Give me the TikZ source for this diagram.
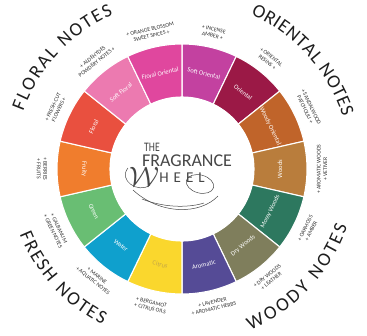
\documentclass[tikz,border=0pt]{standalone}
\usepackage{fontspec}
\setmainfont{Carlito}
\usetikzlibrary{decorations.text}
\definecolor{cSO}{RGB}{195,65,160}
\definecolor{cOR}{RGB}{155,25,70}
\definecolor{cWO}{RGB}{192,100,42}
\definecolor{cWD}{RGB}{185,125,60}
\definecolor{cMW}{RGB}{45,120,95}
\definecolor{cDW}{RGB}{127,126,92}
\definecolor{cAR}{RGB}{85,75,150}
\definecolor{cCI}{RGB}{250,215,45}
\definecolor{cWA}{RGB}{15,160,205}
\definecolor{cGR}{RGB}{105,190,115}
\definecolor{cFR}{RGB}{240,125,45}
\definecolor{cFL}{RGB}{233,80,63}
\definecolor{cSF}{RGB}{236,122,176}
\definecolor{cFO}{RGB}{224,71,158}
\definecolor{citrustext}{RGB}{195,165,70}
\definecolor{notegray}{RGB}{50,50,50}
\definecolor{titlegray}{RGB}{30,30,30}
\definecolor{logogray}{RGB}{70,70,70}
\begin{document}
\begin{tikzpicture}[
  seg/.style={draw=white, line width=1.1pt},
  seglabel/.style={font=\fontsize{6.5}{7}\selectfont, inner sep=0pt},
  note/.style={font=\fontsize{5.7}{6.6}\selectfont, text=notegray, align=center, inner sep=0pt},
  title/.style={decorate, decoration={text along path, text color=titlegray, text align={fit to path}, text={|\fontsize{19}{19}\selectfont|#1}}},
  swirl/.style={draw=logogray, line width=0.5pt}
]
\useasboundingbox (-182pt,-166pt) rectangle (185pt,169pt);
\foreach \a/\rot/\c/\tc/\n/\la/\lb [count=\i] in {
 77.143/-12.857/cSO/white/Soft Oriental/+ INCENSE/AMBER +,
 51.429/-38.571/cOR/white/Oriental/+ ORIENTAL/RESINS +,
 25.714/-64.286/cWO/white/Woody Oriental/+ SANDALWOOD/PATCHOULI +,
 0/90/cWD/white/Woods/+ AROMATIC WOODS/+ VETIVER,
 -25.714/64.286/cMW/white/Mossy Woods/+ OAKMOSS/+ AMBER,
 -51.429/38.571/cDW/white/Dry Woods/+ DRY WOODS/+ LEATHER,
 -77.143/12.857/cAR/white/Aromatic/+ LAVENDER/+ AROMATIC HERBS,
 -102.857/-12.857/cCI/citrustext/Citrus/+ BERGAMOT/+ CITRUS OILS,
 -128.571/-38.571/cWA/white/Water/+ MARINE/+ AQUATIC NOTES,
 -154.286/-64.286/cGR/white/Green/+ GALBANUM/+ GREEN NOTES,
 180/-90/cFR/white/Fruity/+ BERRIES/+ FRUITS,
 154.286/64.286/cFL/white/Floral/+ FRESH-CUT/FLOWERS +,
 128.571/38.571/cSF/white/Soft Floral/+ ALDEHYDES/POWDERY NOTES +,
 102.857/12.857/cFO/white/Floral Oriental/+ ORANGE BLOSSOM/SWEET SPICES +}
{
  \fill[\c, seg] ({\a-12.857}:72pt) arc[start angle={\a-12.857}, end angle={\a+12.857}, radius=72pt]
     -- ({\a+12.857}:125pt) arc[start angle={\a+12.857}, end angle={\a-12.857}, radius=125pt] -- cycle;
  \node[seglabel, text=\tc, rotate=\rot] (seg\i) at (\a:98pt) {\n};
  \node[note, rotate=\rot] (note\i) at (\a:140pt) {\la\\\lb};
}
\fill[white] (0,0) circle (72pt);
% titles
\path[title=FLORAL NOTES] (160:169pt) arc[start angle=160, end angle=114, radius=169pt];
\path[title=ORIENTAL NOTES] (66:169pt) arc[start angle=66, end angle=18, radius=169pt];
\path[title=FRESH NOTES] (-158:175pt) arc[start angle=-158, end angle=-117, radius=175pt];
\path[title=WOODY NOTES] (-67:175pt) arc[start angle=-67, end angle=-19, radius=175pt];
% logo
\node[text=logogray, inner sep=0pt, xscale=0.75] (the) at (-30pt,21.5pt) {\fontsize{13}{13}\selectfont THE};
\node[text=logogray, inner sep=0pt] (frag) at (5pt,8pt) {\fontsize{18}{18}\selectfont FRAGRANCE};
\node[text=logogray, inner sep=0pt] (heel) at (0pt,-9pt) {\fontsize{15}{15}\selectfont H\hspace{5pt}E\hspace{5pt}E\hspace{5pt}L};
\node[text=logogray, inner sep=0pt] (w) at (-38pt,-8pt) {\scalebox{2.8}{$\mathcal{W}$}};
\draw[swirl] (-49pt,-21pt) .. controls (-22pt,-46pt) and (18pt,-46pt) .. (36pt,-27pt);
\draw[swirl, rotate around={-15:(18pt,-15pt)}] (18pt,-15pt) ellipse (14pt and 9pt);
\draw[swirl] (-54pt,1pt) .. controls (-64pt,-11pt) and (-44pt,-25pt) .. (-32pt,-16pt);
\draw[swirl] (-40pt,-30pt) .. controls (-15pt,-40pt) and (10pt,-38pt) .. (22pt,-34pt);
\end{tikzpicture}
\end{document}
